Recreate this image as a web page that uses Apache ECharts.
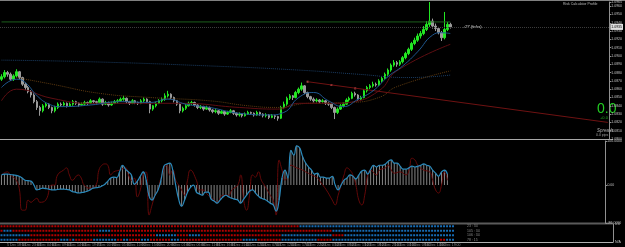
<!DOCTYPE html>
<html><head><meta charset="utf-8">
<script src="https://cdn.jsdelivr.net/npm/echarts@6.0.0/dist/echarts.min.js"></script>
<style>html,body{margin:0;padding:0;background:#000;overflow:hidden}#c{width:625px;height:247px}</style>
</head><body><div id="c"></div>
<script>
// price values are in 1/10000 above 1.0000 (e.g. 935 -> 1.0935)
const candles = [
[872,875,870,878],[875,880,873,883],[880,878,875,882],[878,872,870,880],[872,876,870,878],
[876,881,874,884],[881,874,872,882],[874,866,864,875],[866,862,859,868],[862,857,855,864],
[857,853,850,859],[853,845,843,855],[845,838,835,847],[838,834,828,840],[834,840,832,842],
[840,842,838,844],[842,838,836,843],[838,834,831,839],[834,838,832,840],[838,842,836,844],
[842,841,839,844],[841,843,840,845],[843,840,838,844],[840,842,839,844],[842,845,840,847],
[845,843,841,846],[843,841,839,844],[841,842,840,844],[842,844,841,846],[844,843,841,845],
[843,846,842,848],[846,845,843,847],[845,844,842,846],[844,848,843,850],[848,842,840,849],
[842,844,841,846],[844,841,839,845],[841,843,840,845],[843,845,842,847],[845,846,843,848],
[846,848,845,850],[848,849,846,852],[849,845,843,850],[845,843,841,846],[843,846,842,848],
[846,844,842,847],[844,843,841,845],[843,846,842,848],[846,848,844,850],[848,845,843,849],
[845,836,831,846],[836,840,834,841],[840,843,838,845],[843,846,842,848],[846,848,844,850],
[848,852,846,855],[852,854,850,858],[854,850,848,855],[850,846,844,851],[846,842,840,847],
[842,834,831,843],[834,837,832,839],[837,840,835,842],[840,843,839,845],[843,844,841,846],
[844,841,839,845],[841,838,836,842],[838,839,836,841],[839,836,834,840],[836,838,835,840],
[838,835,833,839],[835,833,831,836],[833,834,831,836],[834,831,829,835],[831,833,830,835],
[833,830,828,834],[830,832,829,834],[832,834,831,836],[834,831,829,835],[831,829,827,832],
[829,830,827,832],[830,828,826,831],[828,830,827,832],[830,832,829,834],[832,831,829,833],
[831,829,827,832],[829,832,828,834],[832,830,828,833],[830,828,826,831],[828,829,826,831],
[829,826,824,830],[826,828,825,830],[828,827,824,829],[827,825,822,828],[825,838,824,840],
[838,842,836,845],[842,849,840,851],[849,852,847,854],[852,850,847,853],[850,856,849,858],
[856,860,854,862],[860,864,858,868],[864,856,854,865],[856,851,849,857],[851,848,846,852],
[848,846,844,850],[846,847,844,849],[847,845,843,848],[845,846,843,848],[846,843,841,847],
[843,842,840,845],[842,838,836,843],[838,832,824,839],[832,836,830,838],[836,840,835,842],
[840,842,838,844],[842,847,841,849],[847,849,845,851],[849,855,848,857],[855,853,851,857],
[853,848,846,854],[848,850,847,852],[850,858,849,860],[858,862,856,864],[862,864,860,866],
[864,866,862,869],[866,865,863,868],[865,870,864,872],[870,873,868,875],[873,878,872,880],
[878,883,876,885],[883,889,881,891],[889,892,887,895],[892,890,887,894],[890,893,888,895],
[893,898,891,900],[898,903,896,905],[903,908,901,910],[908,915,906,917],[915,919,913,922],
[919,924,917,927],[924,927,921,930],[927,932,925,936],[932,938,930,942],[938,942,935,965],
[942,936,933,945],[936,933,930,939],[933,928,926,935],[928,922,918,930],[922,932,920,953],
[932,938,930,941],[938,935,933,940]
];
const maSlow = [[0,895],[30,893],[70,888],[100,883],[120,878],[137,874],[151,877]];
const maMid = [[5,874],[17,866],[33,855],[50,850],[70,846],[83,840],[93,838],[103,843],[117,844],[127,850],[133,863],[151,882]];
const maRed = [[0,846],[5,860],[17,849],[30,843],[60,843],[80,838],[93,836],[100,843],[113,843],[117,844],[127,858],[133,882],[151,914]];
const maFast = [[0,862],[5,872],[8,868],[12,852],[16,842],[20,839],[30,841],[40,845],[50,844],[56,848],[62,842],[70,838],[80,831],[90,829],[95,832],[100,850],[105,856],[110,846],[115,839],[120,848],[125,858],[130,875],[135,888],[140,905],[145,925],[148,928],[151,927]];
const levelLine = [[0,941],[151,941]];
const trendLine = [[103,869],[204,820]];
const trendDots = [[103,869],[111,865],[119,861]];
const oscMain = [23,25,25,24,23,22,20,16,11,10,9,0,-11,-9,-7,-8,-9,-11,-11,-10,
-9,-9,-10,-11,-15,-16,-18,-17,-16,-14,-11,-7,-6,-5,-2,2,9,16,18,17,
30,45,36,30,23,2,9,20,30,11,-25,-34,-23,-11,11,43,48,50,34,0,
-32,-48,-34,-16,-5,0,-16,-20,-23,-16,-16,-32,-36,-41,-34,-27,-23,-27,-30,-32,
-34,-41,-32,-23,-14,-11,-18,-25,-30,-32,-36,-41,-45,-59,-34,16,34,16,79,68,
89,84,64,50,41,34,25,27,18,18,16,16,20,0,-11,0,11,16,23,20,
14,23,32,34,25,36,45,41,45,45,48,54,57,50,50,43,36,36,39,43,
41,43,45,48,45,43,34,27,20,30,34,25];
const oscSignal = [[0,23],[2,30],[3,23],[5,11],[6,-7],[7,-57],[8,-57],[9,-34],[10,-39],[11,-34],[12,-30],[13,-39],[15,-34],[17,0],[18,0],[19,23],[21,34],[22,39],[23,23],[24,11],[26,23],[27,16],[28,0],[30,-7],[32,0],[33,34],[34,45],[35,48],[36,45],[37,23],[38,30],[40,34],[42,39],[43,23],[44,11],[45,16],[46,-27],[47,-11],[48,23],[49,30],[50,-68],[51,-45],[52,-23],[53,-11],[54,16],[56,45],[57,23],[58,34],[59,11],[60,0],[61,-11],[62,-23],[63,11],[64,34],[66,11],[67,-11],[68,-11],[70,-23],[72,-34],[73,-39],[75,-23],[77,-23],[78,-11],[80,0],[81,23],[82,-34],[83,-57],[84,-23],[85,23],[86,18],[87,30],[88,11],[89,0],[91,-23],[92,-34],[93,-68],[94,57],[95,34],[96,11],[97,23],[98,45],[100,39],[102,34],[103,30],[105,23],[107,16],[108,7],[110,-11],[112,-34],[113,-45],[114,-23],[115,0],[116,23],[117,39],[118,34],[119,23],[120,0],[121,-34],[122,-45],[123,-23],[124,23],[125,34],[127,23],[128,34],[130,39],[131,45],[132,34],[133,27],[135,30],[137,23],[138,34],[139,61],[140,57],[141,45],[143,34],[145,30],[146,11],[147,-11],[148,-18],[149,0],[150,30],[151,11]];
const oscTicks = [100, 0, -86];
// signal rows: [startBar, endBar, state] state 0 = red, 1 = blue
const row1 = [[0,100,0],[100,152,1]];
const row2 = [[0,1,0],[1,4,1],[4,33,0],[33,37,1],[37,111,0],[111,152,1]];
const row3 = [[0,10,1],[10,52,0],[52,59,1],[59,63,0],[63,67,1],[67,94,0],[94,111,1],[111,115,0],[115,152,1]];
const row4 = [[0,6,1],[6,20,0],[20,23,1],[23,24,0],[24,25,1],[25,31,0],[31,39,1],[39,41,0],[41,43,1],[43,47,0],[47,50,1],[50,57,0],[57,60,1],[60,81,0],[81,86,1],[86,94,0],[94,106,1],[106,111,0],[111,147,1],[147,149,0],[149,152,1]];
const rowLabels = ['23 : 34','105 : 34','106 : 34','78 : 15'];
const timeLabels = ['5 Dec 13:00','5 Dec 18:00','5 Dec 23:00','6 Dec 04:00','6 Dec 09:00','6 Dec 14:00','6 Dec 19:00','7 Dec 00:00','7 Dec 05:00','7 Dec 10:00','7 Dec 15:00','7 Dec 20:00','8 Dec 01:00','8 Dec 06:00','8 Dec 11:00','8 Dec 16:00','8 Dec 21:00','11 Dec 02:00','11 Dec 07:00','11 Dec 12:00','11 Dec 17:00','11 Dec 22:00','12 Dec 03:00','12 Dec 08:00','12 Dec 13:00','12 Dec 18:00','12 Dec 23:00','13 Dec 04:00','13 Dec 09:00','13 Dec 14:00','13 Dec 19:00'];

const NCAT = 205; // includes empty right-hand shift area
const cats = Array.from({length: NCAT}, (_, i) => String(i));
const N = candles.length;
const fmtPrice = v => (1 + v / 10000).toFixed(4);
const lastClose = candles[N - 1][1];

const rowsData = [];
[[row1,3.5],[row2,2.5],[row3,1.5],[row4,0.5]].forEach(([segs, yv]) => {
  segs.forEach(([s, e, st]) => { for (let i = s; i < e; i++) rowsData.push([i, yv, st]); });
});

const FONT = 'Liberation Sans';
const chart = echarts.init(document.getElementById('c'), null, {renderer: 'canvas'});
const xBase = (gi, showLabels) => ({
  type: 'category', gridIndex: gi, data: cats, boundaryGap: true,
  axisLine: {show: gi === 2, lineStyle: {color: '#b0b0b0', width: 1}},
  axisTick: {show: false},
  axisLabel: showLabels ? {
    show: true, interval: 4, fontSize: 3.5, color: '#8a8a8a', margin: 1, fontFamily: FONT,
    formatter: (v, idx) => idx < N ? (timeLabels[idx / 5] || '') : ''
  } : {show: false},
  splitLine: {show: false}
});
chart.setOption({
  backgroundColor: '#000',
  animation: false,
  textStyle: {fontFamily: FONT},
  grid: [
    {left: 0, top: 1, width: 613, height: 138},
    {left: 0, top: 141, width: 613, height: 82},
    {left: 0, top: 224, width: 613, height: 18}
  ],
  xAxis: [xBase(0, false), xBase(1, false), xBase(2, true)],
  yAxis: [
    {type: 'value', gridIndex: 0, position: 'right', min: 800, max: 965, interval: 10, scale: true,
     axisLine: {show: true, lineStyle: {color: '#909090'}}, axisTick: {show: true, length: 2, lineStyle: {color: '#909090'}},
     axisLabel: {fontSize: 3.5, color: '#c0c0c0', margin: 2, formatter: fmtPrice}, splitLine: {show: false}},
    {type: 'value', gridIndex: 1, position: 'right', min: -86, max: 100,
     axisLine: {show: true, lineStyle: {color: '#909090'}},
     axisTick: {show: true, length: 2, customValues: oscTicks, lineStyle: {color: '#909090'}},
     axisLabel: {fontSize: 3.5, color: '#c0c0c0', margin: 2, customValues: oscTicks,
       formatter: v => v === 0 ? '0.00' : v.toFixed(4)}, splitLine: {show: false}},
    {type: 'value', gridIndex: 2, position: 'right', min: 0, max: 4,
     axisLine: {show: true, lineStyle: {color: '#909090'}}, axisTick: {show: false},
     axisLabel: {fontSize: 3.5, color: '#c0c0c0', margin: 2, customValues: [0, 4],
       formatter: v => v === 4 ? '0.0' : 'N/A'}, splitLine: {show: false}}
  ],
  series: [
    {type: 'line', xAxisIndex: 0, yAxisIndex: 0, data: maSlow, smooth: true, symbol: 'none',
     lineStyle: {color: '#1a3c62', width: 1, type: 'dotted'}},
    {type: 'line', xAxisIndex: 0, yAxisIndex: 0, data: maMid, smooth: true, symbol: 'none',
     lineStyle: {color: '#5e3a10', width: 1, type: 'dotted'}},
    {type: 'line', xAxisIndex: 0, yAxisIndex: 0, data: maRed, smooth: true, symbol: 'none',
     lineStyle: {color: '#5e0e12', width: 1}},
    {type: 'line', xAxisIndex: 0, yAxisIndex: 0, data: levelLine, symbol: 'none',
     lineStyle: {color: '#1c5e1c', width: 1}},
    {type: 'line', xAxisIndex: 0, yAxisIndex: 0, data: trendLine, symbol: 'none',
     lineStyle: {color: '#6e1212', width: 1}},
    {type: 'scatter', xAxisIndex: 0, yAxisIndex: 0, data: trendDots, symbol: 'rect', symbolSize: 2,
     itemStyle: {color: '#e06060'}},
    {type: 'candlestick', xAxisIndex: 0, yAxisIndex: 0, data: candles, barWidth: 2,
     itemStyle: {color: '#22e622', color0: '#9a9a9a', borderColor: '#22e622', borderColor0: '#9a9a9a', borderWidth: 1},
     markLine: {silent: true, symbol: 'none', data: [{yAxis: lastClose}],
       lineStyle: {color: '#3c3c3c', width: 1, type: 'dotted'},
       label: {show: true, position: 'end', distance: 1, fontSize: 3.5, color: '#000', backgroundColor: '#e0e0e0',
         padding: [1, 1], formatter: () => fmtPrice(lastClose)}}},
    {type: 'line', xAxisIndex: 0, yAxisIndex: 0, data: maFast, smooth: true, symbol: 'none',
     lineStyle: {color: '#1f5890', width: 1}},
    {type: 'bar', xAxisIndex: 1, yAxisIndex: 1, data: oscMain, barWidth: 1,
     itemStyle: {color: '#858585'}},
    {type: 'line', xAxisIndex: 1, yAxisIndex: 1, data: oscSignal, smooth: true, symbol: 'none',
     lineStyle: {color: '#640808', width: 1}},
    {type: 'line', xAxisIndex: 1, yAxisIndex: 1, data: oscMain, smooth: true, symbol: 'none',
     lineStyle: {color: '#2a8abc', width: 1.2}},
    {type: 'scatter', xAxisIndex: 2, yAxisIndex: 2, data: rowsData, symbol: 'rect', symbolSize: [2, 2],
     itemStyle: {color: p => p.data[2] ? '#1c86e0' : '#e00000'}}
  ],
  graphic: [
    {type: 'rect', shape: {x: 0, y: 0, width: 625, height: 1}, style: {fill: '#808080'}},
    {type: 'rect', shape: {x: 0, y: 139, width: 613, height: 1}, style: {fill: '#a8a8a8'}},
    {type: 'rect', shape: {x: 0, y: 222.5, width: 613, height: 2}, style: {fill: '#5a5a5a'}},
    {type: 'text', left: 563, top: 2, style: {text: 'Risk Calculator Profile', fontSize: 3.5, fill: '#bdbdbd', fontFamily: FONT}},
    {type: 'text', left: 463, top: 25, style: {text: '+27 (ticks)', fontSize: 4, fill: '#e8e8e8', fontFamily: FONT}},
    {type: 'text', left: 597, top: 102, style: {text: '0.0', fontSize: 14, fill: '#22cc22', fontFamily: FONT}},
    {type: 'text', left: 600, top: 116, style: {text: '+0.0', fontSize: 4, fill: '#22aa22', fontFamily: FONT}},
    {type: 'text', left: 597, top: 128, style: {text: 'Spreads', fontSize: 4.5, fill: '#b0b0b0', fontStyle: 'italic', fontFamily: FONT}},
    {type: 'text', left: 596, top: 133, style: {text: '0.0 pips', fontSize: 3.5, fill: '#a0a0a0', fontFamily: FONT}},
    ...rowLabels.map((t, k) => ({type: 'text', left: 467, top: 224.5 + k * 4.5, style: {text: t, fontSize: 3.5, fill: '#8a8a8a', fontFamily: FONT}}))
  ]
});
</script></body></html>
